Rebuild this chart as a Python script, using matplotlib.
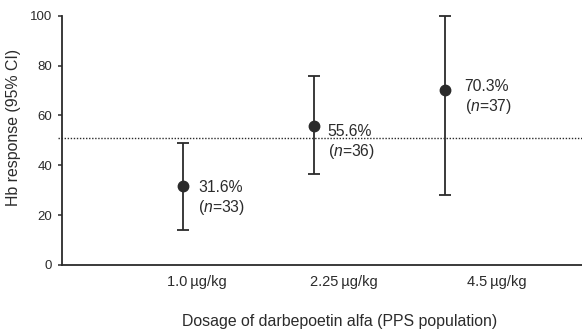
import matplotlib
matplotlib.use("Agg")
import matplotlib.pyplot as plt

plt.rcParams['font.family'] = ['Liberation Sans', 'DejaVu Sans']
plt.rcParams['mathtext.fontset'] = 'custom'
plt.rcParams['mathtext.it'] = 'Liberation Sans:italic'
plt.rcParams['mathtext.rm'] = 'Liberation Sans'

categories = ['1.0\u2009µg/kg', '2.25\u2009µg/kg', '4.5\u2009µg/kg']
response = [31.6, 55.6, 70.3]
ci_low = [14.1, 36.4, 28.1]
ci_high = [48.8, 75.9, 100.0]
n_values = [33, 36, 37]
reference_line = 50.8
yticks = [0, 20, 40, 60, 80, 100]

color = '#2b2b2b'
fig = plt.figure(figsize=(5.82, 3.34), dpi=100)
ax = fig.add_axes([0.1065, 0.2066, 0.8935, 0.7466])

xs = [1, 2, 3]
tick_pos = [1.107, 2.23, 3.40]
yerr = [[r - l for r, l in zip(response, ci_low)], [h - r for r, h in zip(response, ci_high)]]
ax.errorbar(xs, response, yerr=yerr, fmt='o', color=color, ecolor=color,
            markersize=7.5, elinewidth=1.3, capsize=4.5, capthick=1.3, clip_on=False, zorder=3)

ax.axhline(reference_line, color=color, linestyle=(0, (1, 1.2)), linewidth=1.0, zorder=2,
           xmin=-0.008, clip_on=False)

offsets = [(10.8, -9.0), (10.0, -11.5), (14.4, -5.4)]
for x, r, n, (dx, dy) in zip(xs, response, n_values, offsets):
    ax.annotate(f'{r}%\n($\\it{{n}}$={n})', xy=(x, r), xytext=(dx, dy),
                textcoords='offset points', ha='left', va='center',
                fontsize=11.3, color=color, linespacing=1.2)

ax.set_xlim(0.076, 4.05)
ax.set_ylim(0, 100)
ax.set_xticks(tick_pos)
ax.set_xticklabels(categories)
ax.set_yticks(yticks)

for s in ['top', 'right']:
    ax.spines[s].set_visible(False)
for s in ['left', 'bottom']:
    ax.spines[s].set_linewidth(1.3)
    ax.spines[s].set_color(color)

ax.tick_params(axis='x', length=0, pad=7, labelsize=10.5, colors=color)
ax.tick_params(axis='y', length=3, width=1.1, pad=4, labelsize=9.5, colors=color, direction='out')

fig.text(0.584, 0.036, 'Dosage of darbepoetin alfa (PPS population)', ha='center', va='center',
         fontsize=11.4, color=color)
fig.text(0.024, 0.617, 'Hb response (95% CI)', ha='center', va='center', rotation=90,
         fontsize=11.4, color=color)

fig.savefig('out.png', dpi=100)
